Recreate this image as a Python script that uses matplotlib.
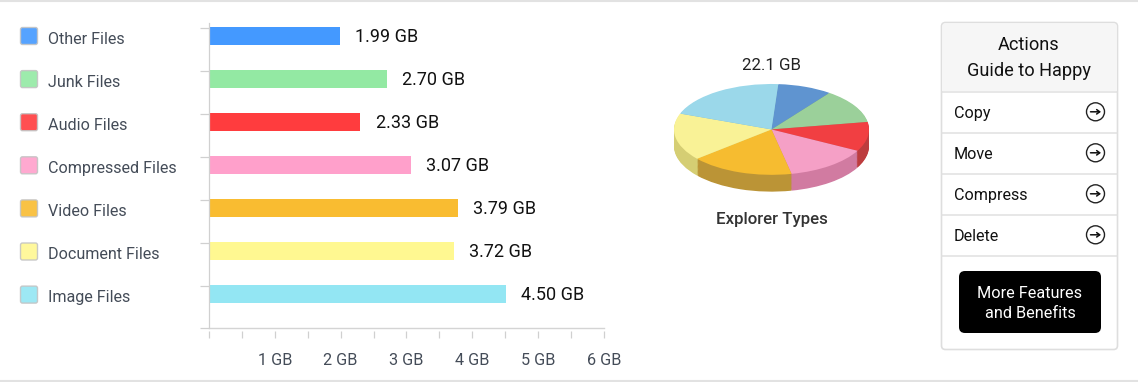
#!/usr/bin/env python3
"""Storage overview: bars per file type, a 3D looking pie and an actions card."""

import colorsys

import matplotlib
matplotlib.use("Agg")
import matplotlib.colors as mcolors
import matplotlib.pyplot as plt
from matplotlib.patches import Circle, FancyBboxPatch, Rectangle

categories = ["Other Files", "Junk Files", "Audio Files", "Compressed Files",
              "Video Files", "Document Files", "Image Files"]
sizes_gb = [1.99, 2.70, 2.30, 3.07, 3.78, 3.72, 4.51]
value_labels = ["1.99 GB", "2.70 GB", "2.33 GB", "3.07 GB", "3.79 GB", "3.72 GB", "4.50 GB"]
bar_colors = ["#4499ff", "#93e9a3", "#ff3c3e", "#ffa0cb", "#f9bc31", "#fff891", "#93e6f3"]
pie_colors = ["#5f94d0", "#9bd09a", "#f13f42", "#f5a0c6", "#f6bc30", "#f9f296", "#9bd8ea"]
x_ticks = [0, 1, 2, 3, 4, 5, 6]
x_tick_labels = ["", "1 GB", "2 GB", "3 GB", "4 GB", "5 GB", "6 GB"]
pie_total = "22.1 GB"
pie_title = "Explorer Types"
card_title = "Actions\nGuide to Happy"
card_actions = ["Copy", "Move", "Compress", "Delete"]
card_button = "More Features\nand Benefits"

W, H = 1138, 382


def px_rect(left, top, right, bottom):
    """Axes rectangle from pixel edges, y counted from the top."""
    return [left / W, 1 - bottom / H, (right - left) / W, (bottom - top) / H]


def darker(color, factor):
    h, l, s = colorsys.rgb_to_hls(*mcolors.to_rgb(color))
    return colorsys.hls_to_rgb(h, l * factor, s * 0.6)


def draw_page(ax):
    """Page lines, legend and the card on the right, in pixel coordinates."""
    ax.set_xlim(0, W)
    ax.set_ylim(H, 0)
    ax.axis("off")
    ax.axhline(0.8, color="#e2e2e2", lw=1.5)
    ax.axhline(380.5, color="#e2e2e2", lw=1.5)

    for i, name in enumerate(categories):
        top = 27.5 + i * 43.1
        ax.add_patch(FancyBboxPatch((20.5, top), 17, 17, boxstyle="round,pad=0,rounding_size=2",
                                    fc=bar_colors[i], ec="#c4c4c4", lw=1, alpha=0.9))
        ax.text(47.8, top + 11.6, name, fontsize=11.6, color="#444c58", va="center", ha="left")

    # Card
    ax.add_patch(FancyBboxPatch((941.5, 22.5), 176, 327, boxstyle="round,pad=0,rounding_size=4",
                                fc="white", ec="#dedede", lw=1.2))
    ax.add_patch(FancyBboxPatch((942.2, 23.2), 174.6, 67.5, boxstyle="round,pad=0,rounding_size=3",
                                fc="#f6f6f6", ec="none"))
    ax.add_patch(Rectangle((942.2, 60), 174.6, 31, fc="#f6f6f6", ec="none"))
    ax.text(1029, 58, card_title, fontsize=13.1, color="#111111", ha="center", va="center",
            linespacing=1.6)
    for i in range(5):
        y = 91.5 + i * 41
        ax.plot([942, 1117], [y, y], color="#e0e0e0", lw=1.1)
    for i, action in enumerate(card_actions):
        y = 113.5 + i * 41
        ax.text(954, y, action, fontsize=11.6, color="#111111", ha="left", va="center")
        ax.add_patch(Circle((1095.5, y - 1.7), 9, fc="white", ec="#222222", lw=1))
        ax.annotate("", xy=(1101, y - 1.7), xytext=(1090.5, y - 1.7),
                    arrowprops=dict(arrowstyle="->,head_length=0.22,head_width=0.16",
                                    color="#111111", lw=1.1, shrinkA=0, shrinkB=0))
    ax.add_patch(FancyBboxPatch((959, 271), 142, 62, boxstyle="round,pad=0,rounding_size=6",
                                fc="black", ec="none"))
    ax.text(1030, 303.3, card_button, fontsize=11.7, color="white", ha="center", va="center",
            linespacing=1.43)


def draw_bars(ax):
    positions = list(range(len(categories)))
    ax.barh(positions, sizes_gb, height=0.42, color=bar_colors)
    ax.set_xlim(0, 6)
    ax.set_ylim(6.78, -0.314)

    for pos, size, label in zip(positions, sizes_gb, value_labels):
        ax.annotate(label, (size, pos), xytext=(11, -0.8), textcoords="offset points",
                    fontsize=13, color="#111111", va="center", ha="left")

    for side in ("top", "right"):
        ax.spines[side].set_visible(False)
    ax.spines["left"].set_color("#d0d0d0")
    ax.spines["left"].set_linewidth(0.9)
    # ticks sit a little below the axis line
    ax.axhline(6.78, color="#d4d4d4", lw=1, clip_on=False)
    ax.spines["bottom"].set_position(("outward", 2.2))
    ax.spines["bottom"].set_visible(False)

    ax.set_xticks(x_ticks)
    ax.set_xticklabels(x_tick_labels, fontsize=11.7, color="#444c58")
    ax.set_xticks([t + 0.5 for t in x_ticks[:-1]], minor=True)
    ax.tick_params(axis="x", which="both", length=5, width=0.9, color="#d0d0d0", pad=11.5)
    ax.set_yticks([p - 0.19 for p in positions] + [6.78])
    ax.set_yticklabels([])
    ax.tick_params(axis="y", length=6.5, width=0.9, color="#d0d0d0")
    ax.patch.set_alpha(0)


def draw_pie(ax):
    """Stacked pies: darker copies going down form the side of the disc."""
    depth = 0.37
    layers = 20
    side_colors = [darker(c, 0.82) for c in pie_colors]
    for i in range(layers):
        ax.pie(sizes_gb, colors=side_colors, startangle=86, counterclock=False,
               center=(0, -depth * (1 - i / layers)), radius=1,
               wedgeprops=dict(linewidth=0))
    ax.pie(sizes_gb, colors=pie_colors, startangle=86, counterclock=False,
           wedgeprops=dict(linewidth=0))
    ax.set_aspect("auto")
    ax.set_xlim(-1, 1)
    ax.set_ylim(-1.4, 1)


fig = plt.figure(figsize=(W / 100, H / 100), dpi=100)
plt.rcParams["font.family"] = ["Roboto", "DejaVu Sans"]

page_ax = fig.add_axes([0, 0, 1, 1])
draw_page(page_ax)

bar_ax = fig.add_axes(px_rect(209, 22.5, 604, 327.5))
draw_bars(bar_ax)

pie_ax = fig.add_axes(px_rect(674, 84, 869, 193))
draw_pie(pie_ax)

page_ax.text(771.5, 65, pie_total, fontsize=12.2, color="#222222", ha="center", va="center")
page_ax.text(771.5, 219.5, pie_title, fontsize=12.2, color="#333333", ha="center", va="center",
             fontweight="medium")

plt.savefig("out.png", dpi=100)
